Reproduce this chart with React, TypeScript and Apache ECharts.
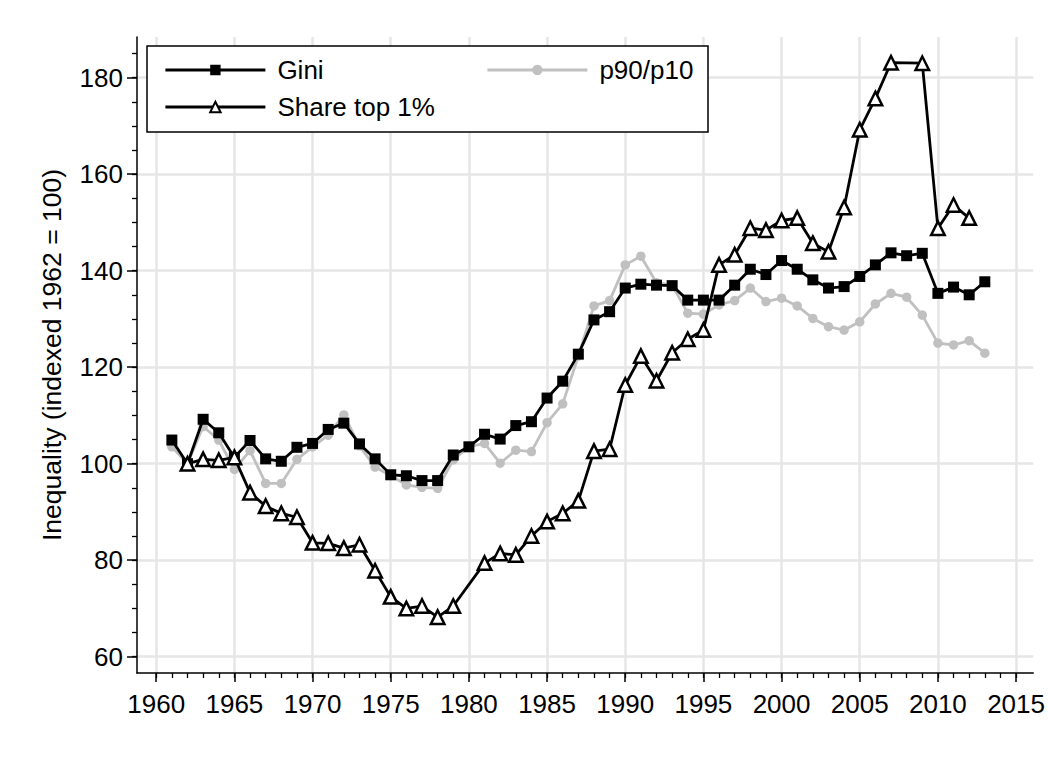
import React, { useEffect, useRef } from "react";
import * as echarts from "echarts";

const years = [
  1961, 1962, 1963, 1964, 1965, 1966, 1967, 1968, 1969, 1970,
  1971, 1972, 1973, 1974, 1975, 1976, 1977, 1978, 1979, 1980,
  1981, 1982, 1983, 1984, 1985, 1986, 1987, 1988, 1989, 1990,
  1991, 1992, 1993, 1994, 1995, 1996, 1997, 1998, 1999, 2000,
  2001, 2002, 2003, 2004, 2005, 2006, 2007, 2008, 2009, 2010,
  2011, 2012, 2013,
];

const gini = [
  104.9, 100.0, 109.2, 106.4, 101.3, 104.8, 101.0, 100.5, 103.4, 104.2,
  107.1, 108.4, 104.1, 101.0, 97.7, 97.5, 96.5, 96.5, 101.8, 103.5,
  106.1, 105.1, 107.9, 108.7, 113.6, 117.1, 122.7, 129.8, 131.5, 136.4,
  137.2, 137.0, 136.9, 133.9, 133.9, 133.9, 137.0, 140.3, 139.2, 142.1,
  140.3, 138.1, 136.4, 136.7, 138.8, 141.2, 143.7, 143.1, 143.6, 135.3,
  136.6, 135.0, 137.7,
];

const p90p10 = [
  103.5, 100.0, 107.7, 104.9, 98.8, 102.7, 95.9, 95.9, 100.9, 103.5,
  105.9, 110.1, 103.7, 99.3, 97.5, 95.6, 95.1, 94.9, 100.8, 103.5,
  104.2, 100.1, 102.8, 102.5, 108.5, 112.4, 122.3, 132.7, 133.8, 141.2,
  143.0, 137.5, 137.0, 131.2, 131.0, 132.9, 133.8, 136.4, 133.6, 134.3,
  132.7, 130.1, 128.4, 127.7, 129.4, 133.1, 135.3, 134.5, 130.8, 125.0,
  124.6, 125.5, 122.9,
];

const top1 = [
  null, 100.0, 100.9, 100.7, 101.3, 94.0, 91.2, 89.7, 88.9, 83.6,
  83.5, 82.5, 83.2, 77.8, 72.4, 70.0, 70.5, 68.2, 70.5, null,
  79.4, 81.4, 81.1, 85.0, 88.0, 89.7, 92.3, 102.6, 103.0, 116.3,
  122.3, 117.2, 123.0, 125.8, 127.7, 141.2, 143.3, 148.8, 148.4, 150.4,
  150.9, 145.7, 143.9, 153.1, 169.2, 175.7, 183.1, null, 183.0, 148.8,
  153.6, 150.9, null,
];

const xMajorTicks = [1960, 1965, 1970, 1975, 1980, 1985, 1990, 1995, 2000, 2005, 2010, 2015];
const xMinorTicks = Array.from({ length: 56 }, (_, i) => 1960 + i);
const yMajorTicks = [60, 80, 100, 120, 140, 160, 180];
const yMinorTicks = Array.from({ length: 26 }, (_, i) => 60 + i * 5);

const FONT = "'Liberation Sans', Arial, Helvetica, sans-serif";
const FS = 26;

export default function App() {
  const ref = useRef<HTMLDivElement>(null);

  useEffect(() => {
    if (!ref.current) return;
    const chart = echarts.init(ref.current, null, { renderer: "svg" });
    const pair = (vals: (number | null)[]) => years.map((y, i) => [y, vals[i]]);
    const xMin = 1958.77;
    const xMax = 2016.1;
    const yMin = 56.62;
    const yMax = 188.43;
    const axisColor = "#000";
    const legendText = { fontSize: FS, color: "#000", fontFamily: FONT, padding: [0, 0, 0, 7] };
    const option: any = {
      animation: false,
      backgroundColor: "#fff",
      textStyle: { fontFamily: FONT },
      grid: { left: 137, top: 37, right: 13, bottom: 99, containLabel: false },
      xAxis: [
        {
          type: "value",
          position: "bottom",
          min: xMin,
          max: xMax,
          axisLine: { show: true, lineStyle: { color: axisColor, width: 1.5 } },
          axisTick: { show: true, length: 9, customValues: xMajorTicks, lineStyle: { color: axisColor, width: 1.5 } },
          axisLabel: {
            show: true,
            customValues: xMajorTicks,
            margin: 18,
            fontSize: FS,
            color: "#000",
            fontFamily: FONT,
            formatter: (v: number) => String(Math.round(v)),
          },
          splitLine: { show: true, lineStyle: { color: "#e6e6e6", width: 2.5 } },
        },
        {
          type: "value",
          position: "bottom",
          min: xMin,
          max: xMax,
          axisLine: { show: false },
          axisTick: { show: true, length: 5, customValues: xMinorTicks, lineStyle: { color: axisColor, width: 1.3 } },
          axisLabel: { show: false },
          splitLine: { show: false },
        },
      ],
      yAxis: [
        {
          type: "value",
          position: "left",
          min: yMin,
          max: yMax,
          name: "Inequality (indexed 1962 = 100)",
          nameLocation: "middle",
          nameGap: 72,
          nameTextStyle: { fontSize: 26.5, color: "#000", fontFamily: FONT },
          axisLine: { show: true, lineStyle: { color: axisColor, width: 1.5 } },
          axisTick: { show: true, length: 10, customValues: yMajorTicks, lineStyle: { color: axisColor, width: 1.5 } },
          axisLabel: {
            show: true,
            customValues: yMajorTicks,
            margin: 14,
            fontSize: FS,
            color: "#000",
            fontFamily: FONT,
            formatter: (v: number) => String(Math.round(v)),
          },
          splitLine: { show: true, lineStyle: { color: "#e6e6e6", width: 2.5 } },
        },
        {
          type: "value",
          position: "left",
          min: yMin,
          max: yMax,
          axisLine: { show: false },
          axisTick: { show: true, length: 5, customValues: yMinorTicks, lineStyle: { color: axisColor, width: 1.3 } },
          axisLabel: { show: false },
          splitLine: { show: false },
        },
      ],
      legend: [
        {
          data: ["Gini", "Share top 1%"],
          orient: "vertical",
          left: 159,
          top: 52,
          itemWidth: 100,
          itemHeight: 13,
          itemGap: 11,
          selectedMode: false,
          textStyle: legendText,
          lineStyle: { width: 2.8 },
          z: 5,
        },
        {
          data: ["p90/p10"],
          orient: "vertical",
          left: 481,
          top: 52,
          itemWidth: 100,
          itemHeight: 13,
          itemGap: 11,
          selectedMode: false,
          textStyle: legendText,
          lineStyle: { width: 2.8 },
          z: 5,
        },
      ],
      graphic: [
        {
          type: "rect",
          z: 3,
          shape: { x: 147, y: 46, width: 561, height: 86 },
          style: { fill: "#fff", stroke: "#000", lineWidth: 1.5 },
        },
      ],
      series: [
        {
          name: "p90/p10",
          type: "line",
          xAxisIndex: 0,
          yAxisIndex: 0,
          data: pair(p90p10),
          symbol: "circle",
          symbolSize: 9.5,
          lineStyle: { color: "#c0c0c0", width: 2.8 },
          itemStyle: { color: "#c0c0c0" },
          z: 2,
        },
        {
          name: "Gini",
          type: "line",
          xAxisIndex: 0,
          yAxisIndex: 0,
          data: pair(gini),
          symbol: "rect",
          symbolSize: 11,
          lineStyle: { color: "#000", width: 2.8 },
          itemStyle: { color: "#000" },
          z: 3,
        },
        {
          name: "Share top 1%",
          type: "line",
          xAxisIndex: 0,
          yAxisIndex: 0,
          data: pair(top1),
          connectNulls: true,
          symbol: "triangle",
          symbolSize: 13.5,
          lineStyle: { color: "#000", width: 2.8 },
          itemStyle: { color: "#fff", borderColor: "#000", borderWidth: 2.5 },
          z: 4,
        },
      ],
    };
    chart.setOption(option);
    return () => chart.dispose();
  }, []);

  return (
    <div
      ref={ref}
      style={{ position: "fixed", left: 0, top: 0, width: 1048, height: 772, background: "#fff" }}
    />
  );
}
